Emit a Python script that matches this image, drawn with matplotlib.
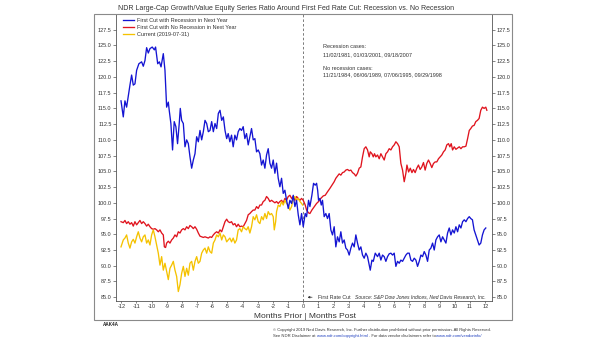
import matplotlib
matplotlib.use("Agg")
import matplotlib.pyplot as plt
from matplotlib.patches import Rectangle

# Growth/Value ratio, indexed to 100 at the first rate cut (month 0)
blue_months = [
    -12.02, -11.87, -11.76, -11.65, -11.43, -11.32, -11.21, -11.10, -10.99, -10.84,
    -10.66, -10.55, -10.44, -10.33, -10.22, -10.11, -9.96, -9.82, -9.74, -9.60,
    -9.49, -9.38, -9.23, -9.12, -9.01, -8.90, -8.84, -8.73, -8.62, -8.51,
    -8.40, -8.29, -8.18, -8.11, -8.02, -7.91, -7.80, -7.69, -7.58, -7.47,
    -7.36, -7.25, -7.14, -7.03, -6.92, -6.81, -6.70, -6.59, -6.48, -6.37,
    -6.26, -6.15, -6.04, -5.93, -5.82, -5.71, -5.60, -5.49, -5.38, -5.27,
    -5.16, -5.05, -4.95, -4.84, -4.73, -4.62, -4.51, -4.40, -4.29, -4.18,
    -4.07, -3.96, -3.85, -3.74, -3.63, -3.52, -3.41, -3.30, -3.19, -3.08,
    -2.97, -2.86, -2.75, -2.64, -2.53, -2.42, -2.31, -2.20, -2.09, -1.98,
    -1.87, -1.76, -1.65, -1.54, -1.43, -1.32, -1.21, -1.10, -0.99, -0.88,
    -0.77, -0.66, -0.55, -0.44, -0.33, -0.22, -0.11, 0.00,
    0.13, 0.22, 0.35, 0.44, 0.57, 0.68, 0.79, 0.88, 0.95, 1.01,
    1.10, 1.19, 1.27, 1.38, 1.49, 1.60, 1.71, 1.82, 1.93, 2.04,
    2.15, 2.26, 2.37, 2.48, 2.59, 2.70, 2.81, 2.92, 3.03, 3.14,
    3.25, 3.36, 3.47, 3.58, 3.69, 3.80, 3.91, 4.02, 4.13, 4.24,
    4.35, 4.42, 4.53, 4.62, 4.75, 4.90, 5.01, 5.12, 5.23, 5.34,
    5.45, 5.56, 5.67, 5.78, 5.89, 6.00, 6.11, 6.22, 6.33, 6.44,
    6.55, 6.66, 6.77, 6.88, 6.99, 7.10, 7.21, 7.32, 7.43, 7.54,
    7.65, 7.76, 7.87, 7.98, 8.09, 8.20, 8.31, 8.42, 8.53, 8.64,
    8.75, 8.86, 8.97, 9.08, 9.19, 9.30, 9.41, 9.52, 9.63, 9.74,
    9.85, 9.96, 10.07, 10.18, 10.29, 10.40, 10.51, 10.62, 10.73, 10.84,
    10.95, 11.05, 11.16, 11.27, 11.38, 11.49, 11.60, 11.71, 11.82, 11.93,
    12.04,
]
blue_values = [
    116.2, 113.65, 116.2, 115.2, 118.7, 120.3, 118.7, 118.9, 121.05, 122.1,
    122.4, 121.7, 122.6, 124.65, 123.8, 124.5, 124.75, 124.3, 124.75, 122.1,
    122.4, 121.6, 123.7, 121.05, 115.2, 116.0, 114.7, 112.6, 108.4, 112.9,
    112.1, 109.4, 112.6, 115.0, 113.1, 112.6, 108.9, 110.0, 109.4, 107.3,
    105.5, 106.8, 107.8, 110.5, 109.7, 111.5, 110.0, 111.3, 113.1, 112.6,
    111.3, 111.5, 112.9, 111.3, 112.6, 111.8, 114.2, 114.7, 113.1, 113.65,
    111.5, 110.2, 111.0, 109.7, 110.75, 108.9, 110.75, 110.0, 111.3, 111.8,
    111.5, 112.1, 110.2, 111.0, 109.2, 110.5, 111.8, 110.0, 110.2, 108.1,
    108.4, 107.8, 106.0, 106.8, 105.5, 107.6, 108.6, 106.3, 105.5, 106.8,
    104.7, 106.3, 103.9, 102.55, 103.9, 101.5, 102.0, 100.4, 99.1, 100.4,
    99.9, 101.2, 99.4, 100.4, 98.1, 96.5, 98.3, 96.2,
    98.3, 97.8, 100.4, 99.4, 101.2, 103.1, 102.8, 103.1, 102.0, 100.4,
    100.7, 99.65, 100.4, 97.8, 98.3, 97.5, 98.3, 95.7, 94.9, 96.2,
    93.0, 94.6, 93.8, 95.4, 93.6, 94.1, 92.8, 92.5, 91.7, 92.8,
    93.6, 93.0, 94.9, 93.6, 92.5, 93.0, 91.7, 91.2, 92.0, 91.45,
    90.1, 89.3, 90.9, 90.7, 92.0, 91.45, 92.0, 90.9, 91.7, 91.45,
    90.7, 91.45, 91.9, 92.0, 91.7, 92.0, 89.9, 90.7, 90.4, 90.9,
    90.7, 91.2, 91.7, 92.0, 92.0, 90.9, 90.7, 91.2, 90.9, 89.9,
    90.7, 91.7, 91.45, 92.25, 91.7, 90.7, 92.5, 92.8, 93.6, 92.5,
    94.1, 94.6, 94.9, 93.8, 94.6, 94.1, 93.6, 95.2, 96.0, 94.9,
    95.7, 95.2, 96.2, 95.4, 96.5, 96.0, 97.0, 97.3, 97.0, 97.5,
    97.8, 97.5, 97.3, 95.7, 94.9, 94.1, 93.3, 93.6, 94.9, 95.7,
    96.0,
]

red_months = [
    -12.02, -11.87, -11.76, -11.65, -11.54, -11.43, -11.32, -11.21, -11.10, -10.99,
    -10.88, -10.77, -10.66, -10.55, -10.44, -10.33, -10.22, -10.11, -10.00, -9.89,
    -9.78, -9.67, -9.56, -9.45, -9.34, -9.23, -9.16, -9.08, -9.01, -8.90,
    -8.79, -8.68, -8.57, -8.46, -8.35, -8.24, -8.13, -8.02, -7.91, -7.80,
    -7.69, -7.58, -7.47, -7.36, -7.25, -7.14, -7.03, -6.92, -6.81, -6.70,
    -6.59, -6.48, -6.37, -6.26, -6.15, -6.04, -5.93, -5.82, -5.71, -5.60,
    -5.49, -5.38, -5.27, -5.16, -5.05, -4.95, -4.84, -4.73, -4.62, -4.51,
    -4.40, -4.29, -4.18, -4.07, -3.96, -3.85, -3.74, -3.63, -3.52, -3.41,
    -3.30, -3.19, -3.08, -2.97, -2.86, -2.75, -2.64, -2.53, -2.42, -2.31,
    -2.20, -2.09, -1.98, -1.87, -1.76, -1.65, -1.54, -1.43, -1.32, -1.21,
    -1.10, -0.99, -0.88, -0.77, -0.66, -0.55, -0.44, -0.33, -0.22, -0.11,
    0.00,
    0.13, 0.22, 0.35, 0.44, 0.57, 0.73, 0.88, 1.01, 1.16, 1.32,
    1.45, 1.60, 1.76, 1.89, 2.04, 2.15, 2.26, 2.37, 2.48, 2.59,
    2.70, 2.81, 2.92, 3.03, 3.14, 3.25, 3.36, 3.47, 3.58, 3.69,
    3.80, 3.91, 4.02, 4.13, 4.24, 4.35, 4.42, 4.53, 4.62, 4.70,
    4.79, 4.90, 5.01, 5.12, 5.23, 5.34, 5.45, 5.56, 5.67, 5.78,
    5.89, 6.00, 6.11, 6.22, 6.33, 6.44, 6.55, 6.66, 6.77, 6.84,
    6.95, 7.06, 7.17, 7.27, 7.38, 7.49, 7.60, 7.71, 7.82, 7.93,
    8.04, 8.15, 8.26, 8.37, 8.48, 8.59, 8.70, 8.81, 8.92, 9.03,
    9.14, 9.25, 9.36, 9.47, 9.58, 9.67, 9.76, 9.85, 9.96, 10.07,
    10.18, 10.29, 10.40, 10.51, 10.62, 10.73, 10.84, 10.95, 11.05, 11.16,
    11.27, 11.38, 11.49, 11.60, 11.71, 11.82, 11.93, 12.04, 12.11,
]
red_values = [
    97.0, 96.85, 97.2, 96.7, 97.0, 96.6, 96.85, 96.3, 97.0, 96.5,
    96.85, 97.2, 96.7, 97.0, 96.7, 96.3, 96.6, 96.2, 95.9, 95.8,
    95.9, 95.7, 95.4, 95.7, 95.2, 94.9, 93.0, 92.9, 93.6, 93.9,
    93.6, 94.1, 94.4, 94.9, 94.6, 95.4, 95.2, 95.7, 95.9, 95.7,
    96.2, 95.9, 96.4, 96.2, 95.9, 96.2, 95.8, 95.2, 94.7, 94.6,
    94.5, 94.6, 94.5, 94.4, 94.6, 94.5, 94.9, 95.2, 95.4, 95.2,
    95.7, 95.4, 96.2, 97.0, 97.4, 97.0, 96.85, 97.0, 96.5, 96.7,
    96.2, 96.6, 96.2, 96.3, 96.2, 96.7, 97.2, 98.1, 98.3, 98.6,
    98.85, 98.85, 99.4, 99.1, 99.65, 99.65, 100.2, 100.4, 101.0, 100.7,
    100.2, 100.4, 100.2, 100.0, 100.2, 99.9, 100.2, 100.4, 100.0, 100.7,
    100.4, 101.0, 101.2, 100.7, 101.0, 100.4, 101.0, 100.7, 100.4, 100.7,
    100.4,
    99.65, 98.85, 98.4, 98.3, 98.85, 99.4, 99.9, 100.2, 100.7, 101.1,
    101.2, 101.75, 102.3, 102.8, 103.35, 103.9, 104.25, 104.6, 104.4, 104.8,
    104.9, 105.2, 105.3, 105.1, 105.2, 104.8, 104.6, 104.25, 104.7, 105.5,
    105.7, 107.3, 108.6, 108.9, 108.4, 107.3, 108.1, 107.8, 107.3, 107.8,
    107.3, 107.6, 107.0, 107.8, 107.3, 106.8, 107.8, 108.1, 108.6, 108.4,
    108.9, 109.2, 109.7, 109.4, 108.9, 106.25, 105.2, 103.35, 104.7, 106.0,
    104.9, 105.5, 104.8, 105.3, 104.8, 105.5, 106.0, 105.3, 105.7, 106.4,
    105.2, 106.25, 106.8, 106.25, 105.6, 106.25, 106.5, 106.5, 107.0, 107.3,
    107.6, 108.1, 108.4, 109.2, 109.4, 108.9, 109.4, 108.4, 108.9, 108.5,
    108.7, 108.9, 108.6, 108.9, 108.9, 109.0, 110.2, 111.5, 111.8, 112.2,
    112.3, 112.9, 113.1, 113.4, 114.7, 115.2, 115.0, 115.2, 114.7,
]

yellow_months = [
    -12.02, -11.87, -11.76, -11.65, -11.54, -11.43, -11.32, -11.21, -11.10, -10.99,
    -10.88, -10.77, -10.66, -10.55, -10.44, -10.33, -10.22, -10.11, -10.00, -9.89,
    -9.78, -9.67, -9.56, -9.45, -9.34, -9.23, -9.12, -9.01, -8.90, -8.79,
    -8.68, -8.57, -8.46, -8.35, -8.24, -8.13, -8.02, -7.91, -7.80, -7.69,
    -7.58, -7.47, -7.36, -7.25, -7.14, -7.03, -6.92, -6.81, -6.70, -6.59,
    -6.48, -6.37, -6.26, -6.15, -6.04, -5.93, -5.82, -5.71, -5.60, -5.49,
    -5.38, -5.27, -5.16, -5.05, -4.95, -4.84, -4.73, -4.62, -4.51, -4.40,
    -4.29, -4.18, -4.07, -3.96, -3.85, -3.74, -3.63, -3.52, -3.41, -3.30,
    -3.19, -3.08, -2.97, -2.86, -2.75, -2.64, -2.53, -2.42, -2.31, -2.20,
    -2.09, -1.98, -1.91, -1.82, -1.76, -1.65, -1.54, -1.43, -1.32, -1.21,
    -1.10, -0.99, -0.88, -0.77, -0.66, -0.55, -0.44, -0.33, -0.22, -0.11,
    -0.04,
]
yellow_values = [
    93.0, 94.1, 94.4, 94.9, 93.6, 92.8, 93.8, 94.2, 93.6, 94.6,
    95.4, 94.4, 93.8, 94.6, 94.9, 93.6, 94.1, 93.3, 94.9, 95.7,
    94.6, 93.3, 92.0, 90.1, 91.45, 89.3, 90.4, 89.1, 87.8, 89.6,
    90.1, 90.7, 89.3, 88.3, 85.9, 87.0, 88.8, 89.9, 88.3, 89.6,
    88.5, 90.4, 90.7, 89.3, 90.7, 91.45, 90.4, 90.7, 92.0, 92.5,
    92.8, 92.0, 93.0, 92.25, 92.0, 93.6, 94.1, 94.9, 94.6, 95.2,
    94.1, 94.9, 94.6, 93.8, 94.1, 94.4, 93.8, 94.4, 93.6, 94.1,
    95.7, 95.9, 95.4, 96.2, 95.9, 95.7, 96.2, 95.2, 96.2, 97.8,
    97.3, 98.1, 97.0, 96.7, 97.8, 97.3, 98.3, 97.5, 98.6, 98.1,
    98.3, 97.8, 95.7, 97.0, 98.6, 99.65, 99.4, 100.2, 99.65, 100.4,
    99.9, 99.65, 98.85, 99.4, 100.7, 101.0, 100.4, 100.7, 100.2, 99.9,
    99.65,
]

series_labels = [
    "First Cut with Recession in Next Year",
    "First Cut with No Recession in Next Year",
    "Current (2019-07-31)",
]
x_ticks = list(range(-12, 13))
y_ticks = [85.0 + 2.5 * i for i in range(18)]

BLUE = "#1414D2"
RED = "#E0141E"
GOLD = "#F5C200"
GRAY = "#555555"

plt.rcParams["font.family"] = ["Liberation Sans", "DejaVu Sans"]

W, H = 605, 341
fig = plt.figure(figsize=(W / 100, H / 100), dpi=100)


def fx(px):
    return px / W


def fy(py):
    return 1 - py / H


ax = fig.add_axes([fx(116), fy(301), fx(492) - fx(116), fy(14) - fy(301)])
ax.set_xlim(-12.35, 12.45)
ax.set_ylim(84.4, 130.0)

ax.plot(blue_months, blue_values, color=BLUE, lw=0.95, label=series_labels[0], zorder=3)
ax.plot(red_months, red_values, color=RED, lw=0.95, label=series_labels[1], zorder=2)
ax.plot(yellow_months, yellow_values, color=GOLD, lw=0.95, label=series_labels[2], zorder=2.5)

ax.axvline(0, color="#666666", lw=0.6, ls=(0, (3, 2.5)), zorder=1)

ax.set_xticks(x_ticks)
ax.set_xticklabels([str(t) for t in x_ticks])
ax.set_yticks(y_ticks)
ax.set_yticklabels([f"{v:.1f}" for v in y_ticks])
ax.tick_params(axis="both", direction="out", length=2.0, width=0.5, colors=GRAY,
               labelsize=4, labelcolor="#333333", pad=1.2)
ax.tick_params(axis="x", length=1.6, pad=0.8)
ax.tick_params(axis="y", right=True, labelright=True)
for side in ["left", "right", "bottom"]:
    ax.spines[side].set_color(GRAY)
    ax.spines[side].set_linewidth(0.6)
ax.spines["top"].set_visible(False)

leg = ax.legend(loc="upper left", bbox_to_anchor=(0.018, 0.985), frameon=False,
                fontsize=4, handlelength=2.0, handletextpad=0.5, labelspacing=0.35,
                borderaxespad=0, borderpad=0)
for txt in leg.get_texts():
    txt.set_color("#333333")

# case dates
fig.text(fx(323), fy(47), "Recession cases:", fontsize=4, color="#333333", va="center")
fig.text(fx(323), fy(55), "11/02/1981, 01/03/2001, 09/18/2007", fontsize=4, color="#333333", va="center")
fig.text(fx(323), fy(68), "No recession cases:", fontsize=4, color="#333333", va="center")
fig.text(fx(323), fy(75), "11/21/1984, 06/06/1989, 07/06/1995, 09/29/1998", fontsize=4,
         color="#333333", va="center")

ax.annotate("First Rate Cut", xy=(0.1, 85.0), xytext=(0.95, 85.0), fontsize=3.8,
            color="#333333", va="center", ha="left",
            arrowprops=dict(arrowstyle="-|>", lw=0.5, color="#333333", mutation_scale=3))

fig.text(fx(486), fy(297), "Source: S&P Dow Jones Indices, Ned Davis Research, Inc.",
         fontsize=3.6, style="italic", color="#333333", ha="right", va="center")

fig.text(fx(305), fy(318), "Months Prior | Months Post", fontsize=6.0, color="#333333",
         ha="center", va="baseline")

fig.text(fx(118), fy(9), "NDR Large-Cap Growth/Value Equity Series Ratio Around First Fed Rate Cut: "
         "Recession vs. No Recession", fontsize=5, color="#333333", va="center")

# outer frame
fig.patches.append(Rectangle((fx(94), fy(320)), fx(512) - fx(94), fy(14) - fy(320),
                             transform=fig.transFigure, fill=False, ec="#8a8a8a", lw=0.8))

fig.text(fx(103), fy(324), "AAK4A", fontsize=3.3, weight="bold", color="#222222", va="center")

# footer, two lines with blue links
renderer = fig.canvas.get_renderer()


def footer_line(x0, y0, parts):
    x = fx(x0)
    for text, color in parts:
        t = fig.text(x, fy(y0), text, fontsize=3.0, color=color, va="center")
        bb = t.get_window_extent(renderer=renderer)
        x += bb.width / W


footer_line(273, 330, [("\u00a9 Copyright 2019 Ned Davis Research, Inc. Further distribution prohibited "
                        "without prior permission. All Rights Reserved.", "#333333")])
footer_line(273, 336, [("See NDR Disclaimer at ", "#333333"),
                       ("www.ndr.com/copyright.html", "#1f3fbf"),
                       (" . For data vendor disclaimers refer to ", "#333333"),
                       ("www.ndr.com/vendorinfo/", "#1f3fbf")])

fig.savefig("out.png", dpi=100)
